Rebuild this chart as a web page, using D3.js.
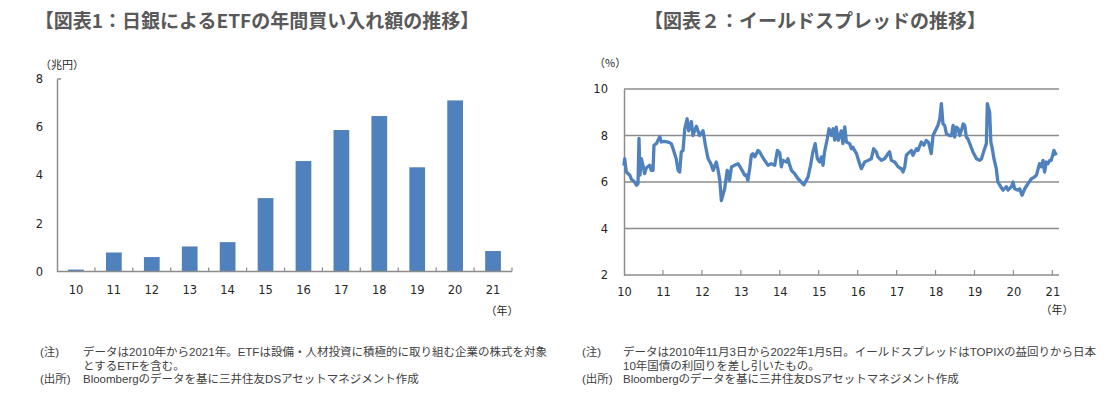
<!DOCTYPE html>
<html>
<head>
<meta charset="utf-8">
<script src="https://cdn.jsdelivr.net/npm/d3@7"></script>
<style>
  body { margin: 0; background: #fff; }
  svg { display: block; }
  .title { font-family: "Noto Sans CJK JP", sans-serif; font-weight: bold; font-size: 19px; fill: #595959; }
  .tick-label { font-family: "DejaVu Sans", Verdana, sans-serif; font-size: 11.5px; fill: #262626; }
  .unit { font-family: "Noto Sans CJK JP", sans-serif; font-size: 11px; fill: #262626; }
  .note { font-family: "Liberation Sans", "Noto Sans CJK JP", sans-serif; font-size: 11.5px; fill: #404040; }
</style>
</head>
<body>
<svg id="root" width="1111" height="397"></svg>
<script>
// chart 1: yearly ETF purchases by BoJ (trillion yen)
const barYears = ["10", "11", "12", "13", "14", "15", "16", "17", "18", "19", "20", "21"];
const barValues = [0.08, 0.79, 0.6, 1.04, 1.22, 3.05, 4.59, 5.88, 6.46, 4.33, 7.11, 0.85];
const barTicks = [0, 2, 4, 6, 8];

// chart 2: yield spread (%), x in decimal years
const spreadDates = [
  2010.84, 2010.857, 2010.90, 2010.99, 2011.03, 2011.11, 2011.16, 2011.20, 2011.225, 2011.25,
  2011.285, 2011.33, 2011.37, 2011.41, 2011.50, 2011.54, 2011.585, 2011.61, 2011.67, 2011.76,
  2011.80, 2011.88, 2011.97, 2012.055, 2012.10, 2012.18, 2012.23, 2012.27, 2012.31, 2012.355,
  2012.40, 2012.46, 2012.50, 2012.57, 2012.61, 2012.70, 2012.78, 2012.87, 2012.93, 2013.00,
  2013.07, 2013.13, 2013.21, 2013.25, 2013.30, 2013.34, 2013.425, 2013.49, 2013.51, 2013.55,
  2013.60, 2013.68, 2013.77, 2013.85, 2013.94, 2013.98, 2014.02, 2014.07, 2014.11, 2014.15,
  2014.20, 2014.28, 2014.32, 2014.37, 2014.45, 2014.54, 2014.62, 2014.71, 2014.78, 2014.84,
  2014.88, 2014.92, 2015.01, 2015.05, 2015.09, 2015.14, 2015.22, 2015.31, 2015.39, 2015.46,
  2015.52, 2015.565, 2015.63, 2015.69, 2015.75, 2015.805, 2015.865, 2015.91, 2015.95, 2015.99,
  2016.06, 2016.105, 2016.165, 2016.21, 2016.25, 2016.29, 2016.34, 2016.42, 2016.46, 2016.51,
  2016.55, 2016.635, 2016.68, 2016.72, 2016.76, 2016.81, 2016.85, 2016.89, 2016.935, 2017.02,
  2017.11, 2017.19, 2017.25, 2017.32, 2017.36, 2017.45, 2017.53, 2017.62, 2017.66, 2017.705,
  2017.79, 2017.88, 2017.96, 2018.005, 2018.05, 2018.09, 2018.13, 2018.22, 2018.26, 2018.35,
  2018.39, 2018.475, 2018.54, 2018.60, 2018.66, 2018.73, 2018.775, 2018.86, 2018.90, 2018.95,
  2018.99, 2019.03, 2019.075, 2019.12, 2019.20, 2019.25, 2019.29, 2019.33, 2019.37, 2019.42,
  2019.46, 2019.50, 2019.55, 2019.59, 2019.63, 2019.67, 2019.72, 2019.80, 2019.845, 2019.89,
  2019.97, 2020.02, 2020.06, 2020.10, 2020.145, 2020.17, 2020.23, 2020.26, 2020.29, 2020.34,
  2020.40, 2020.44, 2020.49, 2020.57, 2020.66, 2020.70, 2020.79, 2020.83, 2020.87, 2020.96,
  2021.00, 2021.06, 2021.13, 2021.215, 2021.30, 2021.37, 2021.43, 2021.51, 2021.56, 2021.60,
  2021.64, 2021.685, 2021.73, 2021.77, 2021.81, 2021.88, 2021.94
];
const spreadValues = [
  6.7, 7.0, 6.43, 6.29, 6.12, 6.0, 5.86, 5.93, 7.88, 6.3,
  7.0, 6.7, 6.36, 6.6, 6.72, 6.5, 6.5, 7.58, 7.65, 7.95,
  7.72, 7.75, 7.72, 7.65, 7.43, 7.0, 6.5, 6.43, 7.3, 7.35,
  8.29, 8.72, 8.2, 8.6, 8.0, 8.4, 8.0, 8.2, 7.58, 7.0,
  6.79, 6.5, 6.86, 6.57, 6.07, 5.2, 5.71, 6.5, 6.43, 6.07,
  6.65, 6.72, 6.79, 6.57, 6.29, 6.3, 6.07, 6.6, 7.15, 7.22,
  7.08, 7.36, 7.3, 7.15, 6.93, 6.72, 6.79, 6.72, 7.36, 7.25,
  6.65, 6.93, 6.86, 7.0, 6.75, 6.5, 6.36, 6.14, 6.0, 5.88,
  6.07, 6.21, 6.72, 7.29, 7.65, 7.0, 6.86, 7.08, 6.72, 7.29,
  7.86, 8.29, 8.0, 8.29, 7.8, 8.36, 7.79, 8.2, 7.65, 8.37,
  7.72, 7.65, 7.43, 7.5, 7.36, 7.22, 7.0, 6.79, 6.57, 6.86,
  6.93, 7.0, 7.43, 7.29, 7.08, 6.93, 7.0, 7.22, 7.3, 6.93,
  6.86, 6.65, 6.57, 6.43, 6.65, 7.15, 7.22, 7.36, 7.15, 7.43,
  7.36, 7.72, 7.58, 7.79, 7.7, 7.22, 8.0, 8.29, 8.43, 8.72,
  9.37, 8.5, 8.43, 8.07, 8.0, 8.0, 8.43, 7.93, 8.36, 8.3,
  8.0, 8.2, 8.5, 8.43, 7.93, 7.86, 7.65, 7.29, 7.15, 7.0,
  6.93, 7.0, 7.22, 7.43, 7.65, 9.37, 9.0, 7.72, 7.5, 7.0,
  6.57, 6.0, 5.86, 5.65, 5.8, 5.65, 5.8, 6.0, 5.71, 5.65,
  5.71, 5.43, 5.71, 5.93, 6.14, 6.2, 6.29, 6.79, 6.65, 6.93,
  6.43, 6.86, 6.79, 6.93, 6.93, 7.36, 7.15
];
const spreadStart = 2010.84;
const spreadEnd = 2022.01;
const spreadTickLabels = ["10", "11", "12", "13", "14", "15", "16", "17", "18", "19", "20", "21"];
const spreadYTicks = [2, 4, 6, 8, 10];

const blue = "#4f81bd";
const axisGray = "#8c8c8c";

const svg = d3.select("#root");

// titles
svg.append("text").attr("class", "title")
    .attr("x", 257).attr("y", 28).attr("text-anchor", "middle")
    .text("【図表1：日銀によるETFの年間買い入れ額の推移】");
svg.append("text").attr("class", "title")
    .attr("x", 815).attr("y", 28).attr("text-anchor", "middle")
    .text("【図表２：イールドスプレッドの推移】");

// ---------- chart 1: bars
const x1 = d3.scaleBand()
    .domain(barYears)
    .range([57, 512])
    .paddingInner(0.585)
    .paddingOuter(0.2925);
const y1 = d3.scaleLinear().domain([0, 8]).range([271.5, 79]);

const g1 = svg.append("g");

g1.selectAll("rect.bar")
    .data(barYears)
    .enter()
    .append("rect")
        .attr("class", "bar")
        .attr("x", (d) => x1(d))
        .attr("width", x1.bandwidth())
        .attr("y", (d, i) => y1(barValues[i]))
        .attr("height", (d, i) => y1(0) - y1(barValues[i]))
        .attr("fill", blue);

// y axis
const yAxis1 = d3.axisLeft(y1).tickValues(barTicks).tickSize(0).tickPadding(14);
g1.append("g")
    .attr("transform", "translate(57,0)")
    .call(yAxis1)
    .call((g) => g.select(".domain").attr("stroke", axisGray).attr("stroke-width", 1.5))
    .call((g) => g.selectAll("text").attr("class", "tick-label").attr("fill", null).attr("font-family", null).attr("font-size", null));
g1.append("line")
    .attr("x1", 57).attr("x2", 61).attr("y1", y1(8)).attr("y2", y1(8))
    .attr("stroke", axisGray).attr("stroke-width", 1.5);

// x axis with ticks at band boundaries
const step = x1.step();
const bounds = d3.range(barYears.length + 1).map((i) => 57 + i * step);
g1.append("line")
    .attr("x1", 57).attr("x2", 512)
    .attr("y1", y1(0)).attr("y2", y1(0))
    .attr("stroke", axisGray).attr("stroke-width", 1.5);
g1.selectAll("line.xtick")
    .data(bounds.slice(1))
    .enter()
    .append("line")
        .attr("class", "xtick")
        .attr("x1", (d) => d).attr("x2", (d) => d)
        .attr("y1", y1(0)).attr("y2", y1(0) - 4)
        .attr("stroke", axisGray).attr("stroke-width", 1.2);
g1.selectAll("text.xlab")
    .data(barYears)
    .enter()
    .append("text")
        .attr("class", "tick-label")
        .attr("x", (d) => x1(d) + x1.bandwidth() / 2)
        .attr("y", 294)
        .attr("text-anchor", "middle")
        .text((d) => d);

g1.append("text").attr("class", "unit").attr("x", 40).attr("y", 69).text("（兆円）");
g1.append("text").attr("class", "unit").attr("x", 502).attr("y", 315).attr("text-anchor", "middle").text("（年）");

// ---------- chart 2: line
const x2 = d3.scaleLinear().domain([spreadStart, spreadEnd]).range([624, 1059]);
const y2 = d3.scaleLinear().domain([2, 10]).range([275, 89]);

const g2 = svg.append("g");

g2.selectAll("line.grid")
    .data(spreadYTicks.slice(1))
    .enter()
    .append("line")
        .attr("class", "grid")
        .attr("x1", 624).attr("x2", 1059)
        .attr("y1", (d) => y2(d)).attr("y2", (d) => y2(d))
        .attr("stroke", axisGray).attr("stroke-width", 1.3);

const yAxis2 = d3.axisLeft(y2).tickValues(spreadYTicks).tickSize(0).tickPadding(16);
g2.append("g")
    .attr("transform", "translate(624,0)")
    .call(yAxis2)
    .call((g) => g.select(".domain").attr("stroke", axisGray).attr("stroke-width", 1.5))
    .call((g) => g.selectAll("text").attr("class", "tick-label").attr("fill", null).attr("font-family", null).attr("font-size", null));

const tickPos = spreadTickLabels.map((d, i) => spreadStart + i);
const xAxis2 = d3.axisBottom(x2)
    .tickValues(tickPos)
    .tickSize(0)
    .tickPadding(13)
    .tickFormat((d, i) => spreadTickLabels[i]);
g2.append("g")
    .attr("transform", "translate(0,275)")
    .call(xAxis2)
    .call((g) => g.select(".domain").remove())
    .call((g) => g.selectAll("text").attr("class", "tick-label").attr("fill", null).attr("font-family", null).attr("font-size", null));
g2.append("line")
    .attr("x1", 624).attr("x2", 1059).attr("y1", 275).attr("y2", 275)
    .attr("stroke", axisGray).attr("stroke-width", 1.5);
g2.selectAll("line.xtick")
    .data(tickPos.slice(1))
    .enter()
    .append("line")
        .attr("class", "xtick")
        .attr("x1", (d) => x2(d)).attr("x2", (d) => x2(d))
        .attr("y1", 275).attr("y2", 270)
        .attr("stroke", axisGray).attr("stroke-width", 1.2);

const line = d3.line()
    .x((d, i) => x2(spreadDates[i]))
    .y((d) => y2(d));
g2.append("path")
    .datum(spreadValues)
    .attr("d", line)
    .attr("fill", "none")
    .attr("stroke", blue)
    .attr("stroke-width", 3.3)
    .attr("stroke-linejoin", "round");

g2.append("text").attr("class", "unit").attr("x", 594).attr("y", 67).text("（%）");
g2.append("text").attr("class", "unit").attr("x", 1057).attr("y", 314).attr("text-anchor", "middle").text("（年）");

// ---------- notes
const noteY = [356, 369.5, 383];
function notes(x0, xt, body) {
    svg.append("text").attr("class", "note").attr("x", x0).attr("y", noteY[0]).text("(注)");
    svg.append("text").attr("class", "note").attr("x", x0).attr("y", noteY[2]).text("(出所)");
    body.forEach((b, i) => {
        svg.append("text").attr("class", "note").attr("x", xt).attr("y", noteY[i]).text(b);
    });
}
notes(40, 83,
    ["データは2010年から2021年。ETFは設備・人材投資に積極的に取り組む企業の株式を対象",
     "とするETFを含む。",
     "Bloombergのデータを基に三井住友DSアセットマネジメント作成"]);
notes(582, 623,
    ["データは2010年11月3日から2022年1月5日。イールドスプレッドはTOPIXの益回りから日本",
     "10年国債の利回りを差し引いたもの。",
     "Bloombergのデータを基に三井住友DSアセットマネジメント作成"]);
</script>
</body>
</html>
